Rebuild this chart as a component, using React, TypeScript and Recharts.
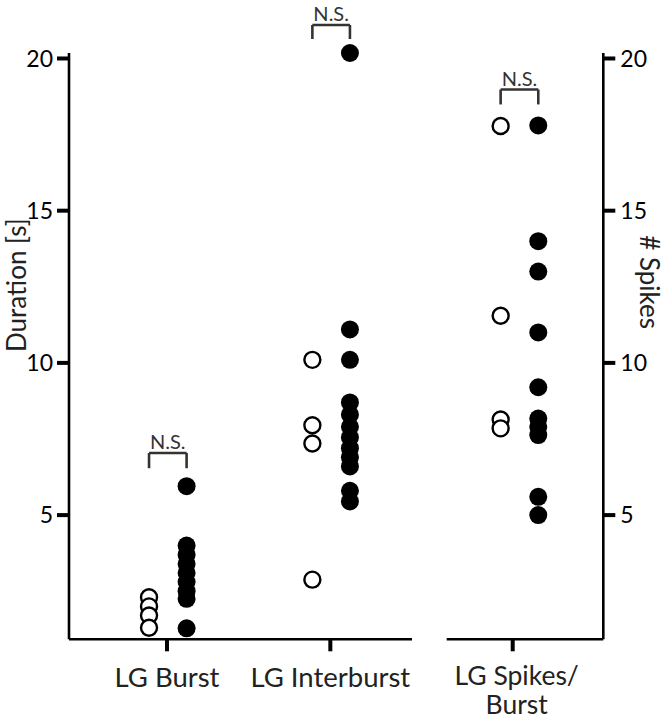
import React from 'react';
import { ScatterChart, Scatter, XAxis, YAxis, ReferenceLine } from 'recharts';

// Categories
const categories = ['LG Burst', 'LG Interburst', 'LG Spikes/ Burst'];
const yTicks = [5, 10, 15, 20];
const leftAxisTitle = 'Duration [s]';
const rightAxisTitle = '# Spikes';
const sigLabel = 'N.S.';

// Values (open = first group, filled = second group)
const burstOpen = [2.3, 2.0, 1.7, 1.3];
const burstFilled = [5.95, 4.0, 3.7, 3.4, 3.1, 2.8, 2.5, 2.25, 1.28];
const interOpen = [10.1, 7.95, 7.35, 2.88];
const interFilled = [20.18, 11.1, 10.1, 8.7, 8.3, 7.9, 7.55, 7.2, 6.9, 6.6, 5.8, 5.45];
const spikesOpen = [17.78, 11.55, 8.14, 7.85];
const spikesFilled = [17.8, 14.0, 13.0, 11.0, 9.2, 8.17, 7.9, 7.63, 5.6, 5.0];

// Significance bracket heights (top, leg bottom)
const burstBracket = [7.04, 6.54];
const interBracket = [21.1, 20.64];
const spikesBracket = [18.98, 18.49];

const Y_DOMAIN: [number, number] = [0.92, 20.18];
const FONT = 'Lato, "Open Sans", sans-serif';
const TEXT = '#222';

// layout offsets of the two groups around each category position
const LEFT_OPEN = -0.11;
const LEFT_FILLED = 0.12;
const RIGHT_OPEN = -0.074;
const RIGHT_FILLED = 0.157;

const toPts = (vals: number[], x: number) => vals.map((v) => ({ x, y: v }));

const OpenDot = (p: any) => (
  <circle cx={p.cx} cy={p.cy} r={8} fill="#fff" stroke="#000" strokeWidth={2.4} />
);
const FilledDot = (p: any) => <circle cx={p.cx} cy={p.cy} r={9} fill="#000" />;

const XTick = (p: any) => {
  const label = categories[Math.round(p.payload.value) - 1] || '';
  const multi = label.includes('/ ');
  const lines = multi ? [label.split('/ ')[0] + '/', label.split('/ ')[1]] : [label];
  return (
    <text x={p.x} y={p.y} textAnchor="middle" fill={TEXT} fontSize={multi ? 26.5 : 27.5} fontFamily={FONT}>
      {lines.map((l, i) => (
        <tspan key={i} x={p.x + (multi ? 4 : 0)} dy={i === 0 ? (multi ? 31.5 : 33.5) : 29}>
          {l}
        </tspan>
      ))}
    </text>
  );
};

const axisCommon = {
  stroke: '#000',
  strokeWidth: 2.6,
};

const bracketLines = (x1: number, x2: number, b: number[], key: string) => [
  <ReferenceLine
    key={key + 'h'}
    segment={[{ x: x1, y: b[0] }, { x: x2, y: b[0] }]}
    stroke="#333"
    strokeWidth={2.6}
    ifOverflow="visible"
    label={{ value: sigLabel, position: 'top', offset: 4, fill: '#333', fontSize: 20, fontFamily: FONT }}
  />,
  <ReferenceLine
    key={key + 'l'}
    segment={[{ x: x1, y: b[0] }, { x: x1, y: b[1] }]}
    stroke="#333"
    strokeWidth={2.6}
    ifOverflow="visible"
  />,
  <ReferenceLine
    key={key + 'r'}
    segment={[{ x: x2, y: b[0] }, { x: x2, y: b[1] }]}
    stroke="#333"
    strokeWidth={2.6}
    ifOverflow="visible"
  />,
];

const LeftTitle = (p: any) => {
  const vb = p.viewBox;
  const cx = vb.x + 7;
  const cy = vb.y + vb.height / 2 - 61;
  return (
    <text x={cx} y={cy} transform={`rotate(-90 ${cx} ${cy})`} textAnchor="middle" dominantBaseline="central" fill={TEXT} fontSize={26} fontFamily={FONT}>
      {leftAxisTitle}
    </text>
  );
};

const RightTitle = (p: any) => {
  const vb = p.viewBox;
  const cx = vb.x + 47;
  const cy = vb.y + vb.height / 2 - 64;
  return (
    <text x={cx} y={cy} transform={`rotate(90 ${cx} ${cy})`} textAnchor="middle" dominantBaseline="central" fill={TEXT} fontSize={26} fontFamily={FONT}>
      {rightAxisTitle}
    </text>
  );
};

export default function App() {
  return (
    <div style={{ position: 'absolute', left: 0, top: 0, width: 666, height: 720, background: '#fff', fontFamily: FONT }}>
      <div style={{ position: 'absolute', left: 0, top: 0 }}>
        <ScatterChart width={420} height={720} margin={{ top: 53, right: 8, bottom: 20.7, left: 9 }}>
          <XAxis
            type="number"
            dataKey="x"
            domain={[0.4, 2.5]}
            ticks={[1, 2]}
            tick={<XTick />}
            tickSize={12}
            tickLine={{ stroke: '#000', strokeWidth: 4 }}
            axisLine={axisCommon}
            height={60}
            interval={0}
          />
          <YAxis
            type="number"
            dataKey="y"
            domain={Y_DOMAIN}
            ticks={yTicks}
            width={60}
            tickSize={12}
            tickMargin={4}
            tickLine={{ stroke: '#000', strokeWidth: 4 }}
            axisLine={axisCommon}
            tick={{ fill: '#000', fontSize: 23, fontFamily: FONT }}
            label={{ content: LeftTitle }}
          />
          <Scatter data={toPts(burstOpen, 1 + LEFT_OPEN)} shape={OpenDot} isAnimationActive={false} />
          <Scatter data={toPts(burstFilled, 1 + LEFT_FILLED)} shape={FilledDot} isAnimationActive={false} />
          <Scatter data={toPts(interOpen, 2 + LEFT_OPEN)} shape={OpenDot} isAnimationActive={false} />
          <Scatter data={toPts(interFilled, 2 + LEFT_FILLED)} shape={FilledDot} isAnimationActive={false} />
          {bracketLines(1 + LEFT_OPEN, 1 + LEFT_FILLED, burstBracket, 'b')}
          {bracketLines(2 + LEFT_OPEN, 2 + LEFT_FILLED, interBracket, 'i')}
        </ScatterChart>
      </div>
      <div style={{ position: 'absolute', left: 440, top: 0 }}>
        <ScatterChart width={226} height={720} margin={{ top: 53, right: 2.7, bottom: 20.7, left: 6.7 }}>
          <XAxis
            type="number"
            dataKey="x"
            domain={[2.595, 3.556]}
            ticks={[3]}
            tick={<XTick />}
            tickSize={12}
            tickLine={{ stroke: '#000', strokeWidth: 4 }}
            axisLine={axisCommon}
            height={60}
            interval={0}
          />
          <YAxis
            type="number"
            dataKey="y"
            orientation="right"
            domain={Y_DOMAIN}
            ticks={yTicks}
            width={60}
            tickSize={12}
            tickMargin={5}
            tickLine={{ stroke: '#000', strokeWidth: 4 }}
            axisLine={axisCommon}
            tick={{ fill: '#000', fontSize: 23, fontFamily: FONT }}
            label={{ content: RightTitle }}
          />
          <Scatter data={toPts(spikesOpen, 3 + RIGHT_OPEN)} shape={OpenDot} isAnimationActive={false} />
          <Scatter data={toPts(spikesFilled, 3 + RIGHT_FILLED)} shape={FilledDot} isAnimationActive={false} />
          {bracketLines(3 + RIGHT_OPEN, 3 + RIGHT_FILLED, spikesBracket, 's')}
        </ScatterChart>
      </div>
    </div>
  );
}
